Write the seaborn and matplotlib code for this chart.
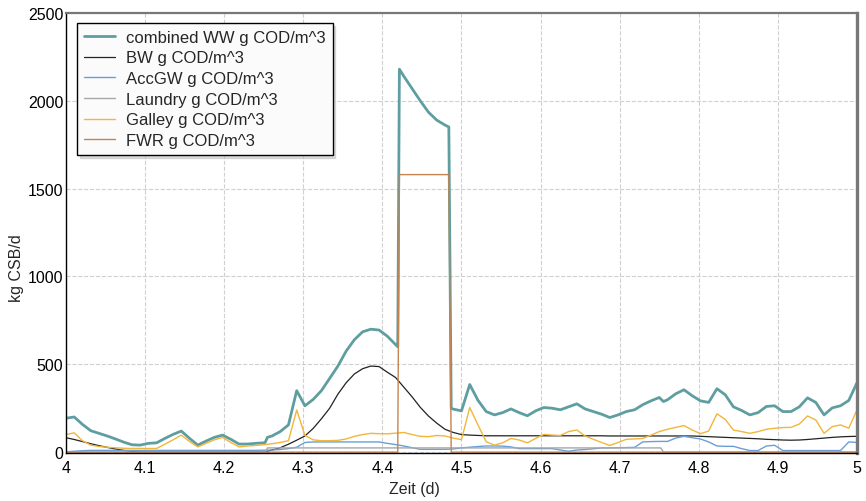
import numpy as np
import pandas as pd
import seaborn as sns
import matplotlib.pyplot as plt

# Zeitachse: 15-min Raster (Tag 4 bis 5)
t_grid = 4 + np.arange(97) / 96

# combined WW (auf Raster) + Zusatzpunkte an den Sprungstellen
combined_ww = [193, 200, 158, 122, 107, 92, 75, 57, 42, 40,
               50, 53, 78, 101, 120, 78, 40, 63, 84, 97,
               73, 46, 46, 50, 53, 92, 117, 155, 350, 264,
               300, 350, 420, 490, 575, 640, 685, 700, 695, 660,
               612, 2140, 2070, 2000, 1935, 1890, 1862, 245, 235, 385,
               295, 231, 212, 225, 246, 225, 207, 235, 254, 250,
               241, 258, 275, 246, 231, 216, 197, 212, 231, 241,
               270, 292, 311, 298, 332, 355, 321, 292, 283, 361,
               327, 258, 237, 212, 225, 260, 264, 231, 231, 258,
               309, 283, 212, 252, 264, 294, 395]
combined_extra_t = [4.2518, 4.2547, 4.4194, 4.4215, 4.4840, 4.4870, 4.7553]
combined_extra_v = [55, 84, 600, 2180, 1851, 250, 288]

bw = [82, 72, 60, 48, 37, 27, 18, 10, 4, 1,
      0, 0, 0, 0, 0, 0, 0, 0, 0, 0,
      0, 0, 0, 0, 0, 12, 25, 45, 68, 92,
      135, 190, 250, 330, 395, 445, 475, 490, 487, 455,
      425, 370, 315, 255, 205, 165, 130, 112, 100, 97,
      95, 93, 93, 93, 93, 93, 93, 93, 93, 93,
      93, 93, 93, 93, 93, 93, 92, 92, 92, 92,
      92, 92, 92, 92, 92, 92, 92, 90, 88, 86,
      84, 82, 80, 78, 76, 73, 71, 69, 68, 69,
      72, 76, 80, 84, 87, 89, 90]

accgw = [2, 5, 8, 10, 10, 10, 10, 10, 10, 10,
         10, 10, 10, 10, 10, 10, 10, 10, 10, 10,
         10, 10, 10, 10, 11, 12, 15, 20, 28, 55,
         58, 58, 58, 58, 58, 58, 58, 58, 58, 50,
         43, 35, 25, 16, 16, 16, 16, 18, 24, 28,
         32, 35, 35, 34, 30, 20, 20, 20, 20, 20,
         12, 5, 12, 15, 19, 24, 24, 25, 26, 27,
         58, 60, 61, 61, 80, 90, 82, 75, 58, 35,
         33, 33, 20, 9, 9, 35, 39, 9, 9, 9,
         9, 9, 9, 9, 9, 58, 55]

galley = [100, 110, 65, 40, 32, 28, 25, 22, 21, 21,
          21, 21, 45, 70, 97, 60, 30, 50, 70, 84,
          55, 30, 35, 38, 42, 48, 55, 65, 240, 95,
          70, 65, 65, 67, 75, 90, 100, 107, 105, 104,
          108, 112, 100, 90, 88, 95, 92, 80, 71, 254,
          155, 59, 40, 53, 78, 69, 53, 78, 101, 97,
          95, 117, 126, 92, 73, 55, 38, 55, 73, 75,
          78, 97, 117, 130, 141, 151, 126, 105, 120, 218,
          187, 126, 117, 107, 117, 130, 136, 140, 141, 160,
          206, 183, 107, 145, 155, 136, 241]

laundry_t = [4.0, 4.2518, 4.2547, 4.7520, 4.7553, 5.0]
laundry = [0, 0, 24, 24, 0, 0]

fwr_t = [4.0, 4.4194, 4.4215, 4.4840, 4.4870, 5.0]
fwr = [0, 0, 1580, 1580, 0, 0]

x_ticks = [4.0, 4.1, 4.2, 4.3, 4.4, 4.5, 4.6, 4.7, 4.8, 4.9, 5.0]
x_labels = ["4", "4.1", "4.2", "4.3", "4.4", "4.5", "4.6", "4.7", "4.8", "4.9", "5"]
y_ticks = [0, 500, 1000, 1500, 2000, 2500]

# combined: Raster + Sprungpunkte zusammenfuehren
comb = pd.DataFrame({"t": np.concatenate([t_grid, combined_extra_t]),
                     "v": np.concatenate([combined_ww, combined_extra_v])})
comb = comb.sort_values("t")

sns.set_theme(style="whitegrid")
plt.rcParams['font.family'] = ['Liberation Sans', 'DejaVu Sans']

fig = plt.figure(figsize=(8.66, 5.02), dpi=100)
ax = fig.add_axes([0.0762, 0.0956, 0.9134, 0.8765])

serien = [
    ("combined WW g COD/m^3", comb["t"].values, comb["v"].values, "#5f9ea0", 2.0),
    ("BW g COD/m^3", t_grid, bw, "#222222", 0.9),
    ("AccGW g COD/m^3", t_grid, accgw, "#6a9fd6", 1.0),
    ("Laundry g COD/m^3", laundry_t, laundry, "#a8a8a8", 1.0),
    ("Galley g COD/m^3", t_grid, galley, "#f2b63a", 1.0),
    ("FWR g COD/m^3", fwr_t, fwr, "#c4834f", 1.0),
]
for label, t, v, farbe, lw in serien:
    sns.lineplot(x=t, y=v, ax=ax, color=farbe, lw=lw, label=label,
                 sort=False, estimator=None)

ax.set_xlim(4, 5)
ax.set_ylim(-5, 2500)
ax.set_xticks(x_ticks)
ax.set_xticklabels(x_labels)
ax.set_yticks(y_ticks)
ax.grid(True, ls='--', color='#d0d0d0', lw=0.8)
ax.tick_params(length=0, labelsize=11.5, colors='black')
ax.tick_params(axis='x', pad=5)
ax.tick_params(axis='y', pad=2)

for s in ['left', 'bottom']:
    ax.spines[s].set_color('black')
    ax.spines[s].set_linewidth(1.0)
ax.spines['top'].set_color('#777777')
ax.spines['top'].set_linewidth(1.6)
ax.spines['right'].set_color('#777777')
ax.spines['right'].set_linewidth(2.4)

ax.set_xlabel("Zeit (d)", fontsize=11.5)
ax.set_ylabel("kg CSB/d", fontsize=11.5)
ax.xaxis.set_label_coords(0.441, -0.064)
ax.yaxis.set_label_coords(-0.053, 0.423)

leg = ax.legend(loc='upper left', bbox_to_anchor=(0.0139, 0.977), borderaxespad=0,
                fontsize=12, frameon=True, fancybox=False,
                edgecolor='black', facecolor='#fbfbfb', framealpha=1,
                shadow={'color': '#bbbbbb'},
                labelspacing=0.34, handlelength=1.9, handletextpad=0.66,
                borderpad=0.4)
leg.get_frame().set_linewidth(1.0)

fig.savefig("out.png", dpi=100)
